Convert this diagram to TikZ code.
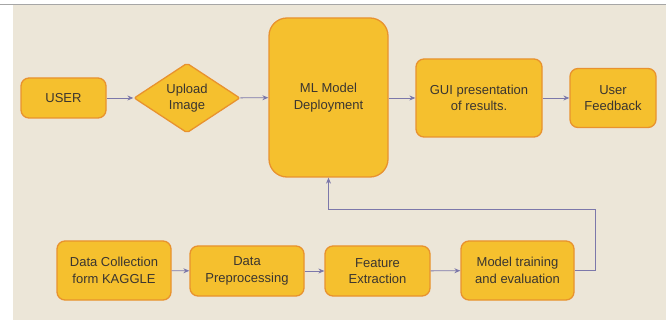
\documentclass[tikz,border=0pt]{standalone}
\usepackage{fontspec}
\setmainfont{Liberation Sans}
\usetikzlibrary{shapes.geometric,arrows.meta}
\definecolor{bgc}{HTML}{ECE6D8}
\definecolor{boxfill}{HTML}{F5C02E}
\definecolor{boxline}{HTML}{E8922E}
\definecolor{arr}{HTML}{7C78AA}
\definecolor{txt}{HTML}{3A3530}
\begin{document}
\begin{tikzpicture}[x=1pt,y=-1pt,
  box/.style={draw=boxline, line width=1.3pt, fill=boxfill, rounded corners=8pt,
    align=center, text=txt, inner sep=0pt, font=\fontsize{13}{16.5}\selectfont},
  dia/.style={diamond, draw=boxline, line width=1.3pt, fill=boxfill, rounded corners=2pt,
    align=center, text=txt, inner sep=0pt, font=\fontsize{13}{16.5}\selectfont},
  conn/.style={draw=arr, line width=0.9pt, -{Stealth[length=6pt,width=5pt]}}]
\useasboundingbox (0,0) rectangle (666,320);
\fill[white] (0,0) rectangle (666,320);
\fill[bgc] (13,4) rectangle (666,320);
\draw[gray!70, line width=0.8pt] (0,4) -- (666,4);
% top row
\node[box, minimum width=85pt, minimum height=40pt] (user) at (63.5,98) {USER};
\node[dia, minimum width=106pt, minimum height=64pt] (upload) at (187,98) {Upload\\Image};
\node[box, rounded corners=18pt, minimum width=119pt, minimum height=159pt] (ml) at (328.5,97.5) {ML Model\\Deployment};
\node[box, minimum width=126pt, minimum height=78pt] (gui) at (479,98) {GUI presentation\\of results.};
\node[box, minimum width=86pt, minimum height=59pt] (fb) at (613,98) {User\\Feedback};
% bottom row
\node[box, minimum width=114pt, minimum height=59pt] (dc) at (114,270.5) {Data Collection\\form KAGGLE};
\node[box, minimum width=114pt, minimum height=50pt] (dp) at (247,271) {Data\\Preprocessing};
\node[box, minimum width=105pt, minimum height=50pt] (fe) at (377.5,271) {Feature\\Extraction};
\node[box, minimum width=113pt, minimum height=59pt] (mt) at (517.5,270.5) {Model training\\and evaluation};
\coordinate (c1) at (595,270.5);
\coordinate (c2) at (595,209);
\coordinate (c3) at (328.5,209);
% connectors
\draw[conn] (user) -- (upload);
\draw[conn] (upload) -- (ml);
\draw[conn] (ml.east |- gui.west) -- (gui);
\draw[conn] (gui) -- (fb);
\draw[conn] (dc) -- (dp);
\draw[conn] (dp) -- (fe);
\draw[conn] (fe) -- (mt);
\draw[conn] (mt.east) -- (c1) -- (c2) -- (c3) -- (ml.south);
\end{tikzpicture}
\end{document}
